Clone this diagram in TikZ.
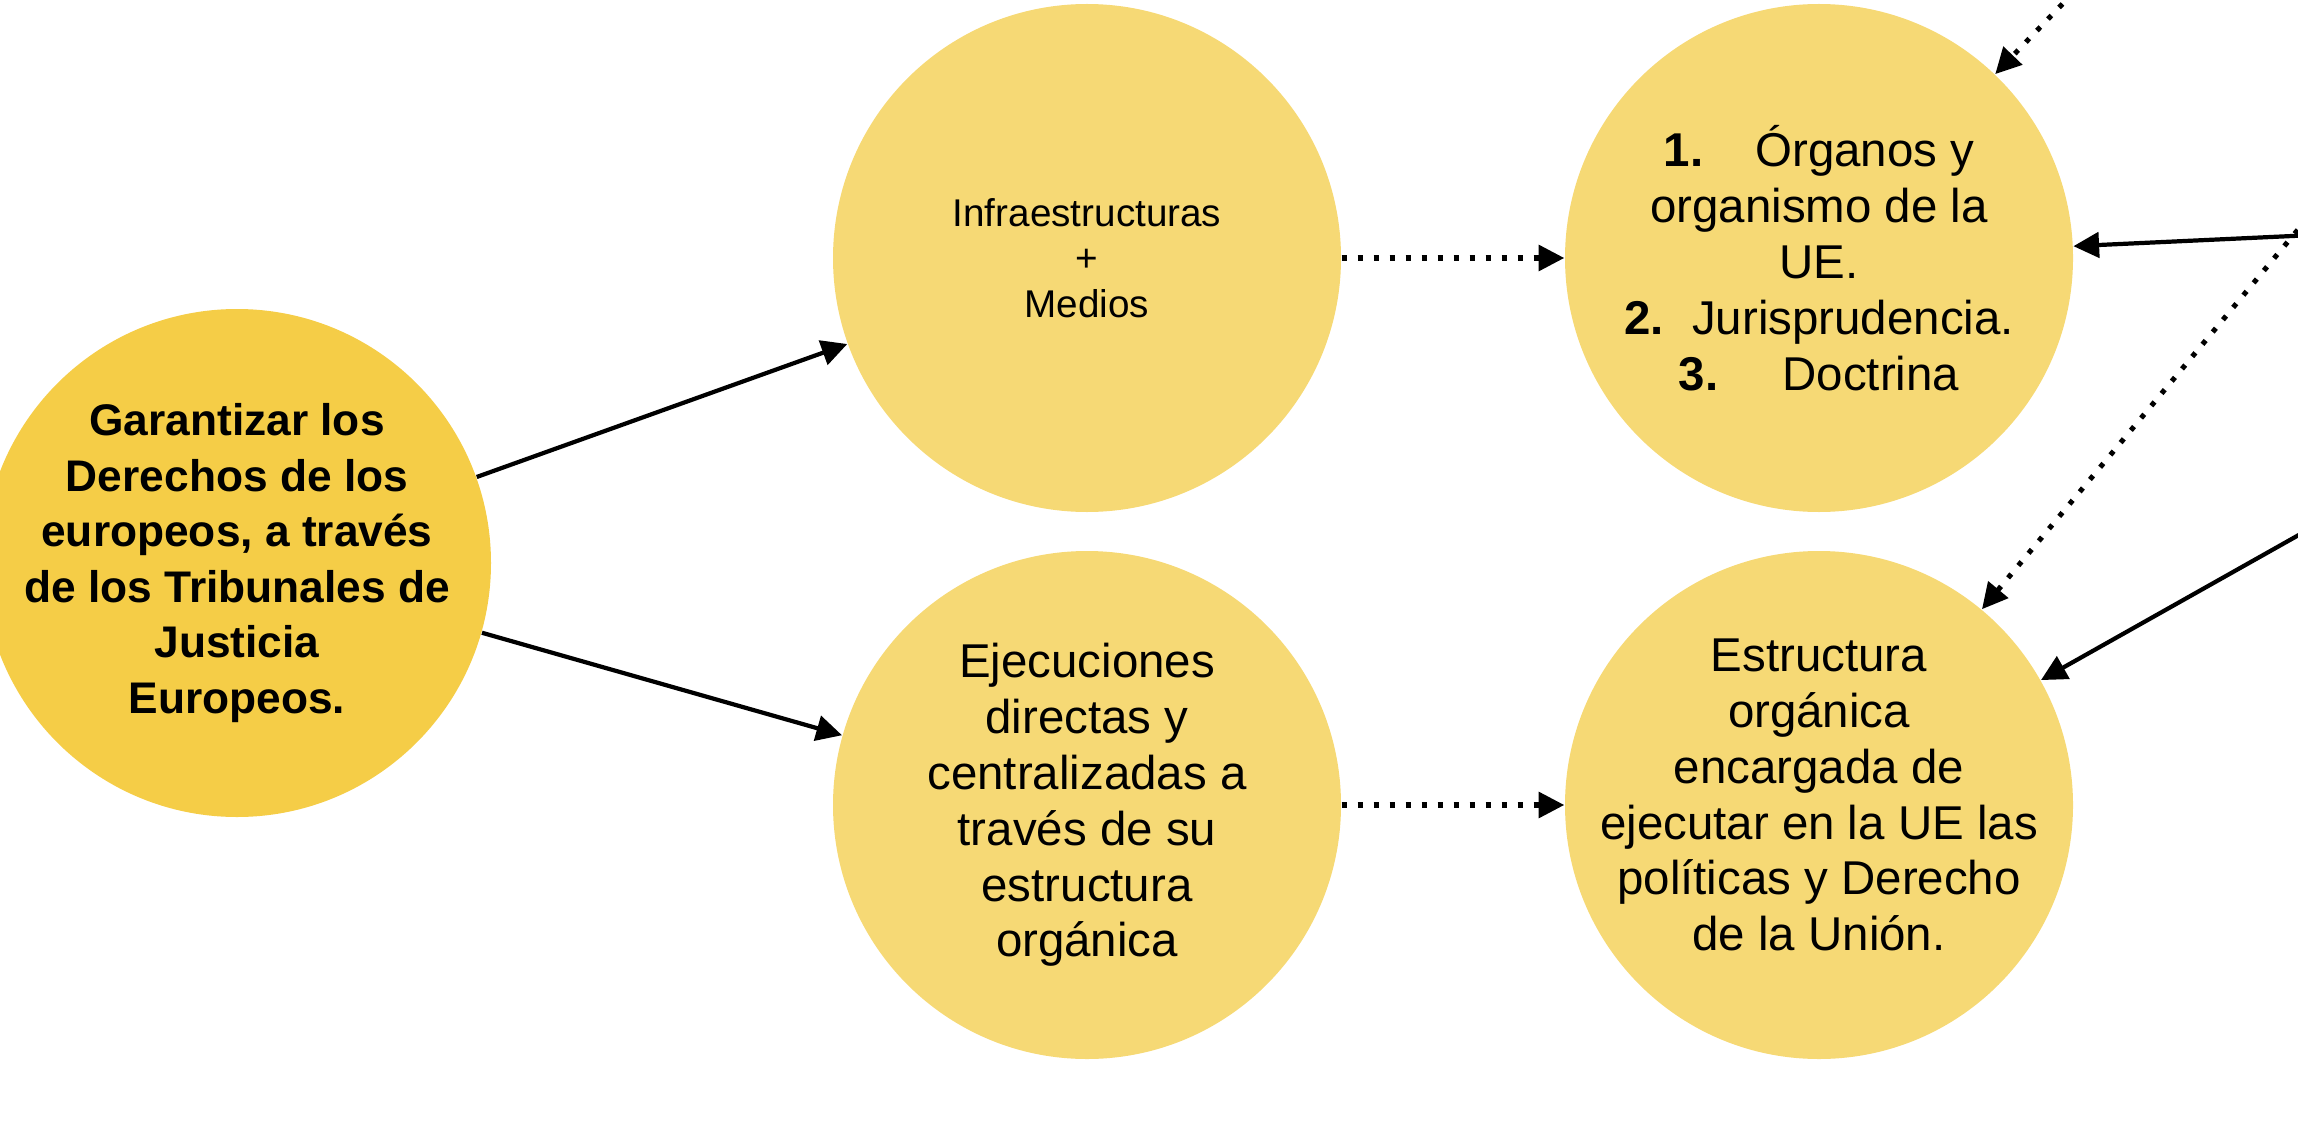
\documentclass[tikz,border=0pt]{standalone}
\usepackage{fontspec}
\setmainfont{Liberation Sans}
\usepackage{xcolor}
\usepackage{tikz}
\usetikzlibrary{arrows.meta}
\definecolor{goalfill}{HTML}{F5CD47}
\definecolor{itemfill}{HTML}{F6D975}

\begin{document}
\begin{tikzpicture}[line cap=butt, line join=miter,
  bubble/.style={circle, inner sep=-1cm, minimum size=5.08cm, fill=itemfill, align=center,
    font=\fontsize{13.5}{15.9}\selectfont},
  flow/.style={line width=1.2pt, -{Triangle[length=7.3pt,width=7.2pt]}},
  dotflow/.style={flow, line width=1.45pt, dash pattern=on 1.4pt off 3.15pt}]
  \useasboundingbox (0,0) rectangle (22.98,11.22);
  \clip (0,0) rectangle (22.98,11.22);

  % central goal
  \node[bubble, fill=goalfill, font=\fontsize{12.6}{15.8}\selectfont\bfseries] (goal) at (2.37,5.59)
    {Garantizar los\\Derechos de los\\europeos, a través\\de los Tribunales de\\Justicia\\Europeos.};

  % middle column
  \node[bubble, font=\fontsize{11}{13}\selectfont] (infra) at (10.87,8.64) {Infraestructuras\\+\\Medios};
  \node[bubble] (ejec) at (10.87,3.17)
    {Ejecuciones\\directas y\\centralizadas a\\través de su\\estructura\\orgánica};

  % right column
  \node[bubble] (organos) at (18.19,8.64)
    {\textbf{1.}\hspace{1.1em}Órganos y\\organismo de la\\UE.\\\textbf{2.}\hspace{0.6em}Jurisprudencia.\\\textbf{3.}\hspace{1.35em}Doctrina};
  \node[bubble] (estructura) at (18.19,3.17)
    {Estructura\\orgánica\\encargada de\\ejecutar en la UE las\\políticas y Derecho\\de la Unión.\vspace{0.2cm}};

  % sources off to the right
  \coordinate (srcA) at (21.62,12.22);
  \coordinate (srcB) at (24.00,8.91);
  \coordinate (srcC) at (24.00,10.15);
  \coordinate (srcD) at (24.00,6.44);

  \draw[flow] (goal) -- (infra);
  \draw[flow] (goal) -- (ejec);
  \draw[dotflow] (infra) -- (organos);
  \draw[dotflow] (ejec) -- (estructura);
  \draw[dotflow] (srcA) -- (organos);
  \draw[flow] (srcB) -- (organos);
  \draw[dotflow] (srcC) -- (estructura);
  \draw[flow] (srcD) -- (estructura);
\end{tikzpicture}
\end{document}
